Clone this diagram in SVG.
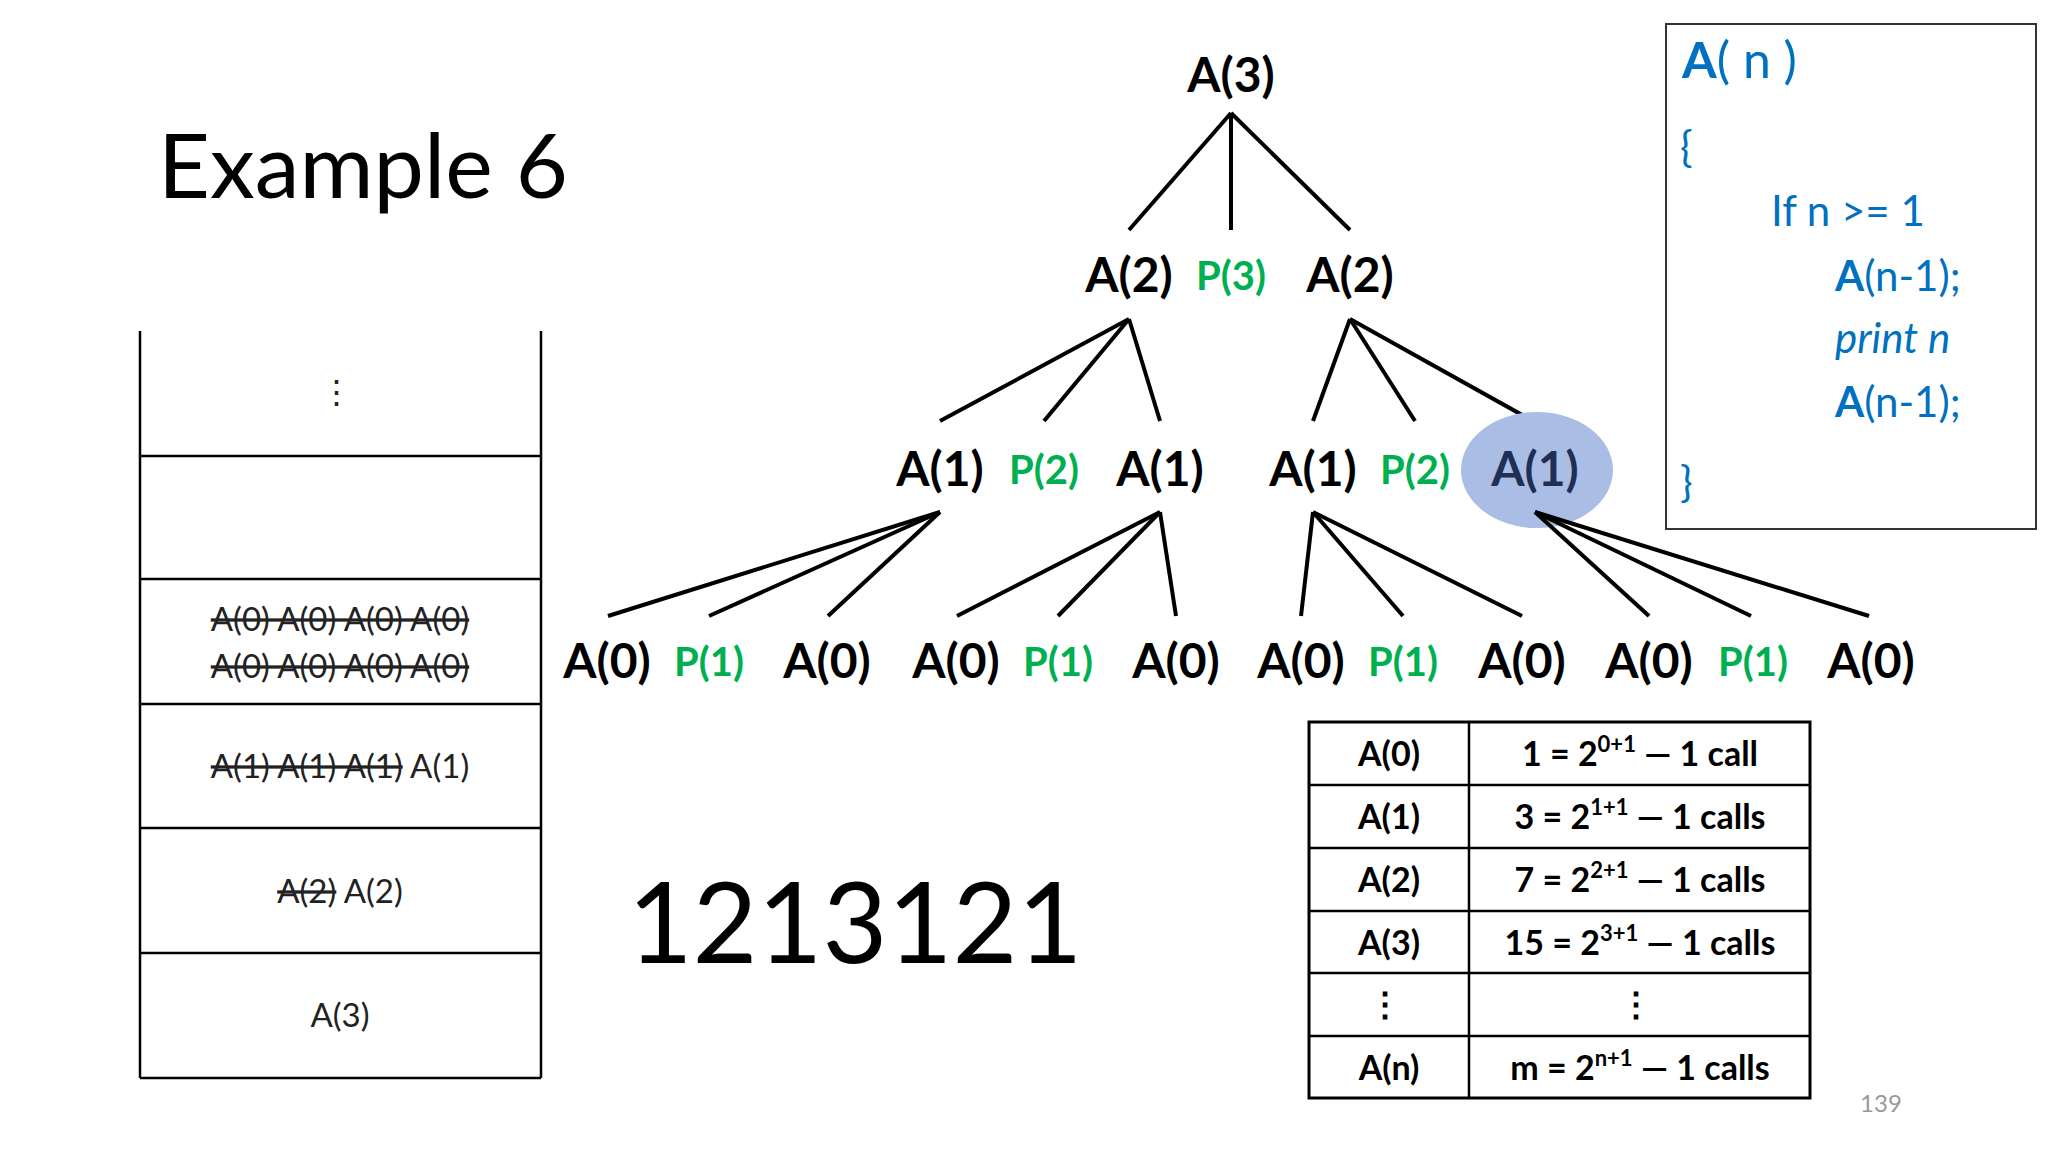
<svg xmlns="http://www.w3.org/2000/svg" width="2048" height="1152" viewBox="0 0 2048 1152">
<style>
text{font-family:Lato,"Open Sans","Liberation Sans",sans-serif}
.n{font-size:48px;font-weight:bold;fill:#000;text-anchor:middle}
.p{font-size:40px;font-weight:bold;fill:#00b050;text-anchor:middle}
.c{font-size:42px;fill:#0070c0}
.s{font-size:33px;fill:#222;text-anchor:middle}
.t{font-size:34px;font-weight:bold;fill:#000;text-anchor:middle}
.e line{stroke:#000;stroke-width:4}
.g line{stroke:#000;stroke-width:2.5}
</style>
<rect width="2048" height="1152" fill="#fff"/>
<text x="158" y="198" font-size="90" fill="#000" style="font-family:Lato,'Open Sans',sans-serif">Example 6</text>
<g id="connectors" class="e">
<line x1="1231" y1="113" x2="1129" y2="230"/><line x1="1231" y1="113" x2="1231" y2="230"/><line x1="1231" y1="113" x2="1350" y2="230"/>
<line x1="1129" y1="319" x2="940" y2="421"/><line x1="1129" y1="319" x2="1044" y2="421"/><line x1="1129" y1="319" x2="1160" y2="421"/>
<line x1="1350" y1="319" x2="1313" y2="421"/><line x1="1350" y1="319" x2="1415" y2="421"/><line x1="1350" y1="319" x2="1533" y2="421"/>
<line x1="940" y1="512" x2="608" y2="616"/><line x1="940" y1="512" x2="709" y2="616"/><line x1="940" y1="512" x2="828" y2="616"/>
<line x1="1160" y1="512" x2="957" y2="616"/><line x1="1160" y1="512" x2="1058" y2="616"/><line x1="1160" y1="512" x2="1176" y2="616"/>
<line x1="1313" y1="512" x2="1301" y2="616"/><line x1="1313" y1="512" x2="1403" y2="616"/><line x1="1313" y1="512" x2="1522" y2="616"/>
</g>
<g id="n-a3"><text class="n" x="1231" y="92">A(3)</text></g>
<g id="n-l2"><text class="n" x="1129" y="292">A(2)</text><text class="p" x="1231" y="290">P(3)</text><text class="n" x="1350" y="292">A(2)</text></g>
<g id="n-highlight"><ellipse cx="1537" cy="470" rx="76" ry="58" fill="#a9bde5"/></g>
<g id="connectors2" class="e">
<line x1="1535" y1="512" x2="1649" y2="616"/><line x1="1535" y1="512" x2="1751" y2="616"/><line x1="1535" y1="512" x2="1869" y2="616"/>
</g>
<g id="n-l3"><text class="n" x="940" y="486">A(1)</text><text class="p" x="1044" y="484">P(2)</text><text class="n" x="1160" y="486">A(1)</text><text class="n" x="1313" y="486">A(1)</text><text class="p" x="1415" y="484">P(2)</text><text class="n" x="1535" y="486" fill="#1f2f55" style="fill:#1f2f55">A(1)</text></g>
<g id="n-l4">
<text class="n" x="607" y="678">A(0)</text><text class="p" x="709" y="676">P(1)</text><text class="n" x="827" y="678">A(0)</text>
<text class="n" x="956" y="678">A(0)</text><text class="p" x="1058" y="676">P(1)</text><text class="n" x="1176" y="678">A(0)</text>
<text class="n" x="1301" y="678">A(0)</text><text class="p" x="1403" y="676">P(1)</text><text class="n" x="1522" y="678">A(0)</text>
<text class="n" x="1649" y="678">A(0)</text><text class="p" x="1753" y="676">P(1)</text><text class="n" x="1871" y="678">A(0)</text>
</g>
<g id="code">
<rect x="1666" y="24" width="370" height="505" fill="none" stroke="#333" stroke-width="2"/>
<text class="c" x="1682" y="78" font-size="50" style="font-size:50px"><tspan font-weight="bold">A</tspan>( n )</text>
<text class="c" x="1680" y="162">{</text>
<text class="c" x="1771" y="226">If n &gt;= 1</text>
<text class="c" x="1835" y="291"><tspan font-weight="bold">A</tspan>(n-1);</text>
<text class="c" x="1835" y="353" font-style="italic">print n</text>
<text class="c" x="1835" y="417"><tspan font-weight="bold">A</tspan>(n-1);</text>
<text class="c" x="1680" y="497">}</text>
</g>
<g id="stack" class="g">
<line x1="140" y1="331" x2="140" y2="1078"/><line x1="541" y1="331" x2="541" y2="1078"/>
<line x1="140" y1="456" x2="541" y2="456"/><line x1="140" y1="579" x2="541" y2="579"/><line x1="140" y1="704" x2="541" y2="704"/><line x1="140" y1="828" x2="541" y2="828"/><line x1="140" y1="953" x2="541" y2="953"/><line x1="140" y1="1078" x2="541" y2="1078"/>
<text class="s" x="336" y="404">⋮</text>
<text class="s" x="340" y="631" text-decoration="line-through">A(0) A(0) A(0) A(0)</text>
<text class="s" x="340" y="678" text-decoration="line-through">A(0) A(0) A(0) A(0)</text>
<text class="s" x="340" y="778"><tspan text-decoration="line-through">A(1) A(1) A(1)</tspan> A(1)</text>
<text class="s" x="340" y="903"><tspan text-decoration="line-through">A(2)</tspan> A(2)</text>
<text class="s" x="340" y="1027">A(3)</text>
</g>
<g id="output"><text x="855" y="963" font-size="112" text-anchor="middle" fill="#000">1213121</text></g>
<g id="table" class="g">
<rect x="1309" y="722" width="501" height="376" fill="none" stroke="#000" stroke-width="3"/>
<line x1="1469" y1="722" x2="1469" y2="1098"/>
<line x1="1309" y1="785" x2="1810" y2="785"/><line x1="1309" y1="848" x2="1810" y2="848"/><line x1="1309" y1="911" x2="1810" y2="911"/><line x1="1309" y1="973" x2="1810" y2="973"/><line x1="1309" y1="1036" x2="1810" y2="1036"/>
<text class="t" x="1389" y="766">A(0)</text><text class="t" x="1640" y="766">1 = 2<tspan font-size="22" dy="-14">0+1</tspan><tspan dy="14"> — 1 call</tspan></text>
<text class="t" x="1389" y="829">A(1)</text><text class="t" x="1640" y="829">3 = 2<tspan font-size="22" dy="-14">1+1</tspan><tspan dy="14"> — 1 calls</tspan></text>
<text class="t" x="1389" y="892">A(2)</text><text class="t" x="1640" y="892">7 = 2<tspan font-size="22" dy="-14">2+1</tspan><tspan dy="14"> — 1 calls</tspan></text>
<text class="t" x="1389" y="955">A(3)</text><text class="t" x="1640" y="955">15 = 2<tspan font-size="22" dy="-14">3+1</tspan><tspan dy="14"> — 1 calls</tspan></text>
<text class="t" x="1385" y="1016">⋮</text><text class="t" x="1636" y="1016">⋮</text>
<text class="t" x="1389" y="1080">A(n)</text><text class="t" x="1640" y="1080">m = 2<tspan font-size="22" dy="-14">n+1</tspan><tspan dy="14"> — 1 calls</tspan></text>
</g>
<text x="1881" y="1112" font-size="24" fill="#999" text-anchor="middle">139</text>
</svg>
